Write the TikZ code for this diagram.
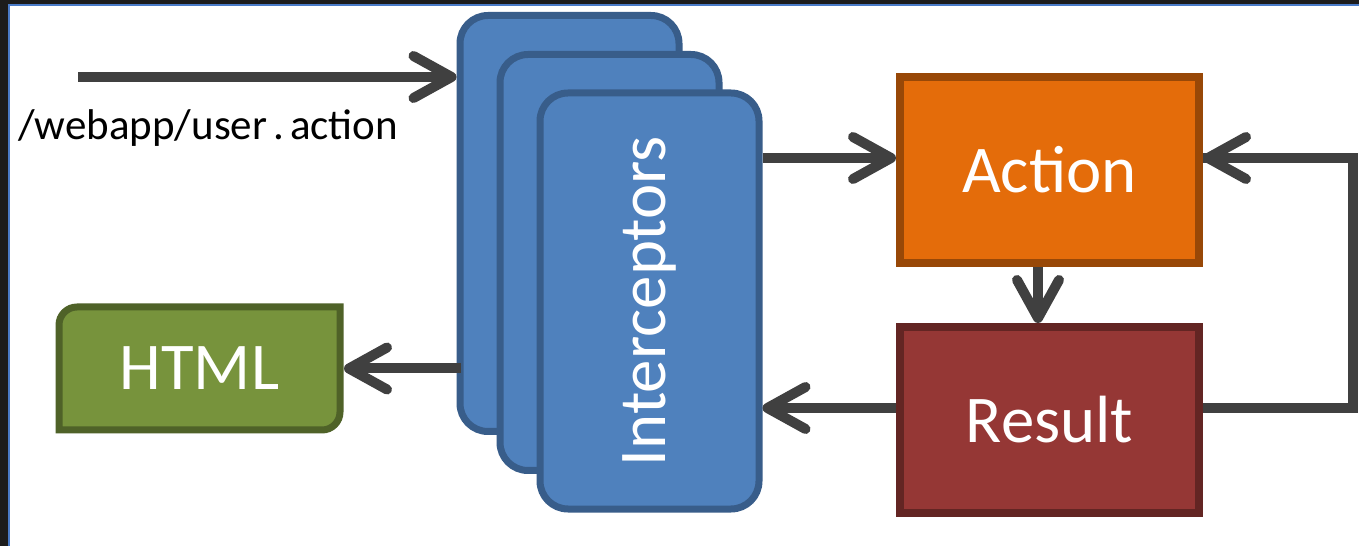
\documentclass[tikz,border=0pt]{standalone}
\usepackage{fontspec}
\setmainfont{Carlito}
\usetikzlibrary{arrows.meta}
\definecolor{icfill}{HTML}{4F81BD}
\definecolor{icline}{HTML}{385D8A}
\definecolor{actfill}{HTML}{E46C0A}
\definecolor{actline}{HTML}{984807}
\definecolor{resfill}{HTML}{953735}
\definecolor{resline}{HTML}{632523}
\definecolor{htmlfill}{HTML}{77933C}
\definecolor{htmlline}{HTML}{4F6228}
\definecolor{arrowgray}{HTML}{404040}
\definecolor{framedark}{HTML}{1C1C1C}
\definecolor{frameblue}{HTML}{4A7BC8}
\tikzset{
  bigtext/.style={text=white, font=\fontsize{66.8}{70}\selectfont},
  icbox/.style={draw=icline, fill=icfill, line width=7pt, rounded corners=28pt,
    minimum width=219pt, minimum height=416pt, inner sep=0pt},
  flowbox/.style={bigtext, line width=8pt, minimum width=299pt, minimum height=186pt, inner sep=0pt},
  arr/.style={draw=arrowgray, line width=10pt,
    -{Straight Barb[length=38pt,width=42pt,line cap=round,line join=round]}},
  link/.style={draw=arrowgray, line width=10pt}
}
\begin{document}
\begin{tikzpicture}[x=1pt,y=1pt]
\useasboundingbox (0,0) rectangle (1359,546);
\fill[white] (0,0) rectangle (1359,546);
% window frame along the top and left
\fill[framedark] (0,542) rectangle (1359,546);
\fill[frameblue] (0,540) rectangle (1359,542);
\fill[framedark] (0,0) rectangle (8,546);
\fill[frameblue] (8,0) rectangle (10,540);

% stacked interceptor cards
\node[icbox] (ib) at (569.5,322.5) {};
\node[icbox] (im) at (609.5,283.5) {};
\node[icbox] (if) at (649.5,245) {};
\node[bigtext, rotate=90] (ict) at (if.center) {Interceptors};

% action and result
\node[flowbox, draw=actline, fill=actfill] (act) at (1049.5,376) {Action};
\node[flowbox, draw=resline, fill=resfill] (res) at (1049.5,126) {Result};

% HTML output, rounded on the top-left and bottom-right corners
\node[bigtext, minimum width=281pt, minimum height=123pt, inner sep=0pt, outer sep=0pt] (html) at (199.5,177.5) {};
\filldraw[draw=htmlline, fill=htmlfill, line width=7pt]
  (html.south west) -- ([yshift=-18pt]html.north west)
  arc[start angle=180, end angle=90, radius=18pt]
  -- (html.north east) -- ([yshift=18pt]html.south east)
  arc[start angle=0, end angle=-90, radius=18pt]
  -- cycle;
\node[bigtext] (htmlt) at (html.center) {HTML};

% request label
\coordinate (req) at (78,469);
\node[anchor=base west, inner sep=0pt, font=\fontsize{43}{46}\selectfont] (reqt) at (18,406)
  {/webapp/user\kern6pt.\kern6pt action};

% connectors
\draw[arr] (req) -- (req -| ib.west);
\draw[arr] ([yshift=12pt]act.west -| if.east) -- ([yshift=12pt]act.west);
\draw[arr] ([xshift=-11.5pt]act.south) -- ([xshift=-11.5pt]res.north);
\draw[arr] ([yshift=12pt]res.west) -- ([yshift=12pt]res.west -| if.east);
\coordinate (loopr) at (1353,138);
\coordinate (loopt) at (1353,388);
\draw[link, line join=miter] ([yshift=12pt]res.east) -- (loopr) -- (loopt) -- ([yshift=12pt]act.east);
\draw[arr] (loopt) -- ([yshift=12pt]act.east);
\draw[arr] ([xshift=4pt]html.east -| ib.west) -- ([xshift=4pt]html.east);
\end{tikzpicture}
\end{document}
